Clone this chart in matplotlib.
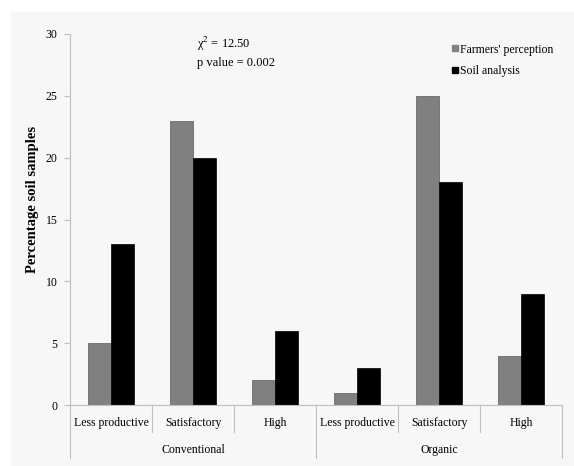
import numpy as np
import matplotlib.pyplot as plt
import matplotlib.transforms as mtransforms
from matplotlib.patches import Rectangle
from matplotlib.lines import Line2D

plt.rcParams['font.family'] = ['Liberation Serif', 'DejaVu Serif']
plt.rcParams['mathtext.fontset'] = 'stix'

# chart data
groups = ['Conventional', 'Organic']
levels = ['Less productive', 'Satisfactory', 'High']
farmers = [5, 23, 2, 1, 25, 4]
soil = [13, 20, 6, 3, 18, 9]
yticks = [0, 5, 10, 15, 20, 25, 30]

bg = '#f7f7f7'
axis_col = '#bfbfbf'

fig = plt.figure(figsize=(5.74, 4.66), dpi=100)
fig.patches.append(Rectangle((11 / 574, 0), 1, (466 - 12) / 466,
                             transform=fig.transFigure, facecolor=bg,
                             edgecolor='none', zorder=-10))

ax = fig.add_axes([70 / 574, 61 / 466, 492 / 574, 371 / 466])
ax.set_facecolor(bg)

x = np.arange(len(farmers))
w = 0.28
ax.bar(x - w / 2, farmers, w, color='#808080', edgecolor='#5a5a5a', linewidth=0.5,
       label="Farmers' perception")
ax.bar(x + w / 2, soil, w, color='black', edgecolor='black', linewidth=0.5,
       label='Soil analysis')

ax.set_xlim(-0.5, len(x) - 0.5)
ax.set_ylim(0, 30)
ax.set_yticks(yticks)
ax.tick_params(axis='y', direction='out', length=4, color=axis_col, labelsize=8.5, pad=5)
ax.set_xticks([])
for s in ['top', 'right']:
    ax.spines[s].set_visible(False)
for s in ['left', 'bottom']:
    ax.spines[s].set_color(axis_col)
    ax.spines[s].set_linewidth(0.8)

ax.set_ylabel('Percentage soil samples', fontsize=10.5, fontweight='bold')
ax.yaxis.set_label_coords(-0.064, 0.553)

# two-level category axis
trans = mtransforms.blended_transform_factory(ax.transData, ax.transAxes)
all_levels = levels * len(groups)
for i, lab in enumerate(all_levels):
    ax.text(i, -0.048, lab, transform=trans, ha='center', va='center', fontsize=8.5)
n = len(levels)
for k in range(len(all_levels) + 1):
    bottom = -0.143 if k % n == 0 else -0.0728
    ax.plot([k - 0.5, k - 0.5], [0, bottom], transform=trans, color=axis_col,
            linewidth=0.8, clip_on=False)
for g, name in enumerate(groups):
    ax.text(g * n + (n - 1) / 2, -0.121, name, transform=trans, ha='center',
            va='center', fontsize=8.5)

# statistics annotation
ax.text(0.258, 0.972, r'χ$^2$ = 12.50', transform=ax.transAxes, fontsize=9,
        ha='left', va='center')
ax.text(0.258, 0.922, 'p value = 0.002', transform=ax.transAxes, fontsize=9,
        ha='left', va='center')

handles = [Line2D([], [], marker='s', linestyle='none', markersize=5,
                  markerfacecolor='#808080', markeredgecolor='#808080'),
           Line2D([], [], marker='s', linestyle='none', markersize=5,
                  markerfacecolor='black', markeredgecolor='black')]
ax.legend(handles, ["Farmers' perception", 'Soil analysis'], loc='upper left',
          bbox_to_anchor=(0.76, 0.99), frameon=False, fontsize=8.5,
          handletextpad=0.1, handlelength=0.8, labelspacing=0.8, borderpad=0)

fig.savefig('out.png', dpi=100)
